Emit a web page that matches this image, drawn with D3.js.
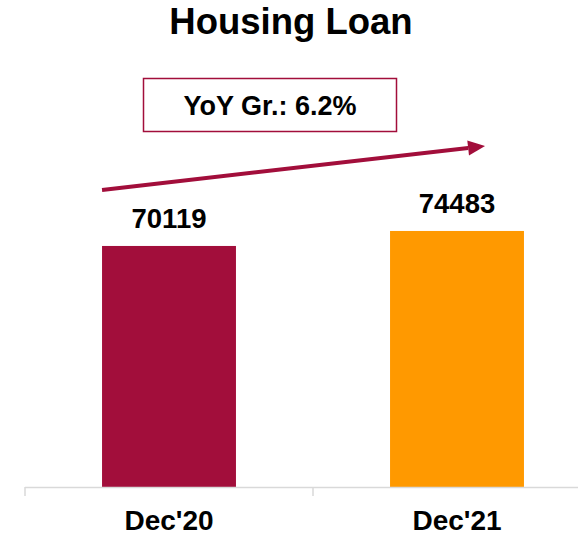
<!DOCTYPE html>
<html>
<head>
<meta charset="utf-8">
<script src="https://cdnjs.cloudflare.com/ajax/libs/d3/7.8.5/d3.min.js"></script>
<style>
  body { margin: 0; background: #fff; }
  text { font-family: Arial, "Liberation Sans", sans-serif; font-weight: bold; }
</style>
</head>
<body>
<svg width="578" height="536"></svg>
<script>
var categories = ["Dec'20", "Dec'21"];
var values = [70119, 74483];
var colors = ['#A20E3B', '#FF9900'];
var title = 'Housing Loan';
var growthLabel = 'YoY Gr.: 6.2%';

var width = 578
var height = 536
var baseY = 487 // where the axis sits

var svg = d3.select('svg')

var xScale = d3.scaleBand()
  .domain(categories)
  .range([25, 601])
  .paddingInner(0.535)
  .paddingOuter(0.2675)

var yScale = d3.scaleLinear()
  .domain([0, 80000])
  .range([baseY, baseY - 275])

// title
svg.append('text')
  .attr('x', 291)
  .attr('y', 34)
  .attr('text-anchor', 'middle')
  .attr('font-size', 36.5)
  .text(title)

// bars
svg.selectAll('rect.bar')
  .data(values)
  .enter().append('rect')
  .attr('class', 'bar')
  .attr('x', (d, i) => xScale(categories[i]))
  .attr('y', d => yScale(d))
  .attr('width', xScale.bandwidth())
  .attr('height', d => baseY - yScale(d))
  .attr('fill', (d, i) => colors[i])

// value labels
svg.selectAll('text.val')
  .data(values)
  .enter().append('text')
  .attr('class', 'val')
  .attr('x', (d, i) => xScale(categories[i]) + xScale.bandwidth() / 2)
  .attr('y', d => yScale(d) - 18)
  .attr('text-anchor', 'middle')
  .attr('font-size', 27.5)
  .text(d => d)

// axis line + ticks at band edges
var gap = xScale.step() * xScale.paddingInner() / 2
svg.append('line')
  .attr('x1', 25).attr('x2', width)
  .attr('y1', baseY + 0.5).attr('y2', baseY + 0.5)
  .attr('stroke', '#d9d9d9').attr('stroke-width', 1.5)

svg.selectAll('line.tick')
  .data(categories)
  .enter().append('line')
  .attr('class', 'tick')
  .attr('x1', d => xScale(d) - gap)
  .attr('x2', d => xScale(d) - gap)
  .attr('y1', baseY).attr('y2', baseY + 9)
  .attr('stroke', '#d9d9d9').attr('stroke-width', 1.5)

svg.selectAll('text.cat')
  .data(categories)
  .enter().append('text')
  .attr('class', 'cat')
  .attr('x', d => xScale(d) + xScale.bandwidth() / 2)
  .attr('y', 530)
  .attr('text-anchor', 'middle')
  .attr('font-size', 28)
  .text(d => d)

// growth box
svg.append('rect')
  .attr('x', 143.5).attr('y', 78.5)
  .attr('width', 253).attr('height', 53)
  .attr('fill', '#fff')
  .attr('stroke', '#A20E3B').attr('stroke-width', 1.5)

svg.append('text')
  .attr('x', 270)
  .attr('y', 115)
  .attr('text-anchor', 'middle')
  .attr('font-size', 27)
  .text(growthLabel)

// arrow from above first bar to above second
var x0 = xScale(categories[0])
var x1 = xScale(categories[1]) + 95
var ay0 = 190, ay1 = 146
var ang = Math.atan2(ay1 - ay0, x1 - x0)
var headLen = 17, headHalf = 7.5
var bx = x1 - headLen * Math.cos(ang), by = ay1 - headLen * Math.sin(ang)

svg.append('line')
  .attr('x1', x0).attr('y1', ay0)
  .attr('x2', bx).attr('y2', by)
  .attr('stroke', '#A20E3B').attr('stroke-width', 4)

svg.append('path')
  .attr('d', 'M' + [x1, ay1] +
    'L' + [bx - headHalf * Math.sin(ang), by + headHalf * Math.cos(ang)] +
    'L' + [bx + headHalf * Math.sin(ang), by - headHalf * Math.cos(ang)] + 'Z')
  .attr('fill', '#A20E3B')
</script>
</body>
</html>
